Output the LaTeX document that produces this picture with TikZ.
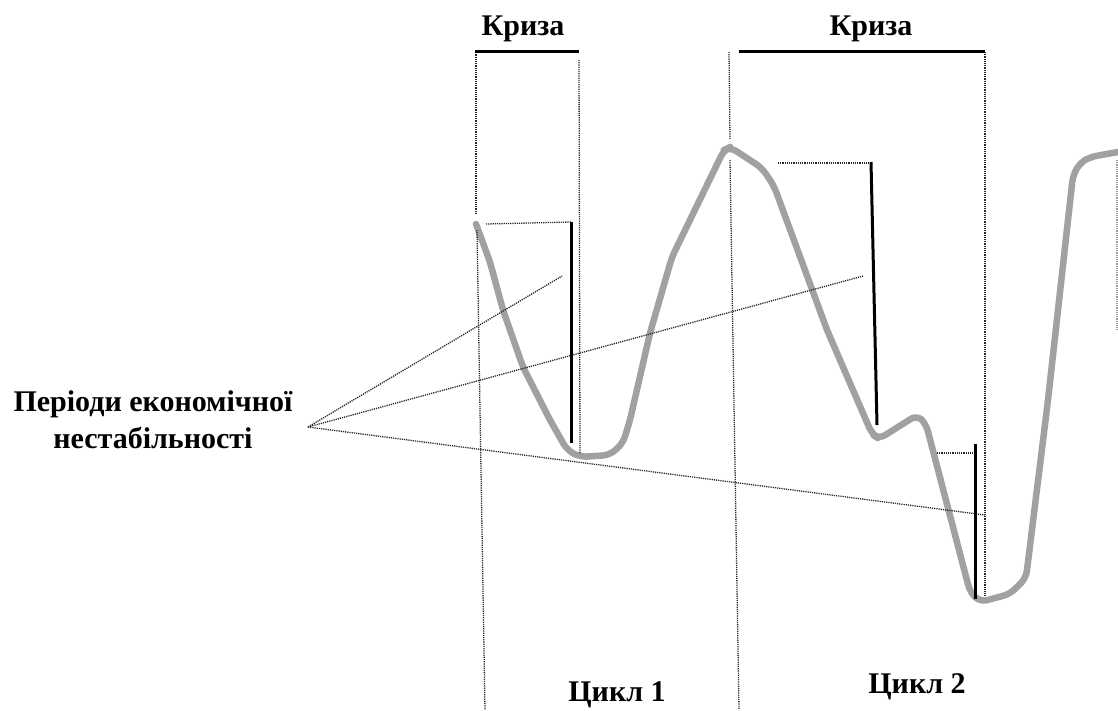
\documentclass[tikz,border=0pt]{standalone}
\usepackage{fontspec}
\setmainfont{Liberation Serif}
\begin{document}
\begin{tikzpicture}[x=1pt,y=-1pt,
  lbl/.style={font=\fontsize{30}{34}\selectfont\bfseries, inner sep=0pt, anchor=base},
  guide/.style={line width=1.3pt, dash pattern=on 1.2pt off 1pt, black!85},
  bar/.style={line width=3pt, black},
  curve/.style={line width=6.5pt, black!37, line join=round, line cap=round, rounded corners=7pt}]
\useasboundingbox (0,0) rectangle (1118,710);

% labels
\node[lbl] (kr1) at (523,35) {Криза};
\node[lbl] (kr2) at (871,35) {Криза};
\node[lbl] (per1) at (153,411) {Періоди економічної};
\node[lbl] (per2) at (153,448) {нестабільності};
\node[lbl] (cy1) at (617,701) {Цикл 1};
\node[lbl] (cy2) at (917,693) {Цикл 2};

% curve
\draw[curve] (476,224) -- (490,262) -- (503,310) -- (523,367) -- (550,420)
  -- (567,450) -- (580,457) -- (610,455) -- (623,443) -- (630,420) -- (650,333)
  -- (672,257) -- (724,150) -- (730,147) -- (762,168) -- (774,186) -- (827,330)
  -- (872,434) -- (879,439) -- (917,415) -- (926,424) -- (970,592) -- (980,602)
  -- (1010,594) -- (1026,578) -- (1048,400) -- (1073,175) -- (1080,163) -- (1090,157) -- (1118,152);

% vertical guides
\coordinate (l1a) at (476,50);  \coordinate (l1b) at (476,214);
\coordinate (l1c) at (477,230); \coordinate (l1d) at (485,710);
\coordinate (l2a) at (579,60);  \coordinate (l2b) at (580,454);
\coordinate (l3a) at (729,52);  \coordinate (l3b) at (730,140);
\coordinate (l3c) at (730,160); \coordinate (l3d) at (739,710);
\coordinate (l4a) at (985,52);  \coordinate (l4b) at (985,596);
\coordinate (l5a) at (1117,160); \coordinate (l5b) at (1117,330);
\draw[guide] (l1a) -- (l1b);
\draw[guide] (l1c) -- (l1d);
\draw[guide] (l2a) -- (l2b);
\draw[guide] (l3a) -- (l3b);
\draw[guide] (l3c) -- (l3d);
\draw[guide] (l4a) -- (l4b);
\draw[guide, black!40] (l5a) -- (l5b);

% rays
\coordinate (apex) at (308,427);
\coordinate (r1) at (562,276);
\coordinate (r2) at (863,276);
\coordinate (r3) at (985,515);
\draw[guide] (apex) -- (r1);
\draw[guide] (apex) -- (r2);
\draw[guide] (apex) -- (r3);

% horizontal dotted ticks
\coordinate (h1a) at (486,224); \coordinate (h1b) at (571,222);
\coordinate (h2a) at (778,163); \coordinate (h2b) at (871,163);
\coordinate (h3a) at (937,453); \coordinate (h3b) at (974,453);
\draw[guide] (h1a) -- (h1b);
\draw[guide] (h2a) -- (h2b);
\draw[guide] (h3a) -- (h3b);

% black bars
\coordinate (t1a) at (475,51); \coordinate (t1b) at (579,51);
\coordinate (t2a) at (739,51); \coordinate (t2b) at (985,51);
\draw[bar] (t1a) -- (t1b);
\draw[bar] (t2a) -- (t2b);
\coordinate (b1a) at (571,222); \coordinate (b1b) at (571,443);
\coordinate (b2a) at (871,162); \coordinate (b2b) at (877,425);
\coordinate (b3a) at (975,444); \coordinate (b3b) at (975,599);
\draw[bar] (b1a) -- (b1b);
\draw[bar] (b2a) -- (b2b);
\draw[bar] (b3a) -- (b3b);
\end{tikzpicture}
\end{document}
